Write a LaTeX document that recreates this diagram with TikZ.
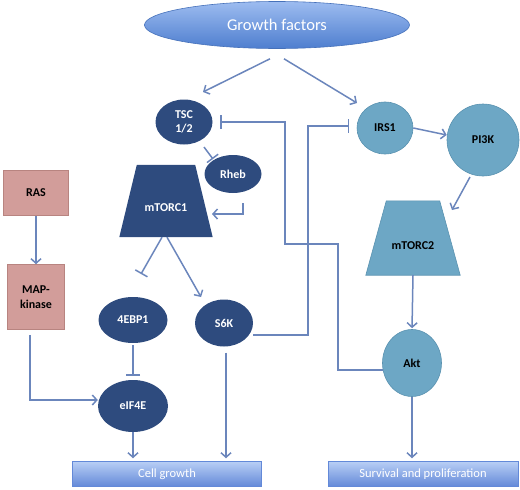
\documentclass[tikz,border=0pt]{standalone}
\usepackage{fontspec}
\setmainfont{Carlito}
\usepackage{tikz}
\usetikzlibrary{arrows.meta,positioning,shapes.geometric,calc,backgrounds}
\definecolor{navy}{HTML}{2E4B7E}
\definecolor{teal}{HTML}{6DA7C5}
\definecolor{tealdk}{HTML}{5A92B0}
\definecolor{rose}{HTML}{D29D9A}
\definecolor{rosedk}{HTML}{B88480}
\definecolor{steel}{HTML}{6B86BC}
\definecolor{sky}{HTML}{9DBCF0}
\definecolor{skydk}{HTML}{4E7ECF}
\definecolor{pale}{HTML}{B8CEF5}
\definecolor{paledk}{HTML}{6389D8}
\tikzset{
  nfont/.style={font=\fontsize{12}{13}\selectfont\bfseries},
  dark/.style={ellipse,fill=navy,text=white,align=center,inner sep=0pt,nfont},
  light/.style={ellipse,draw=tealdk,line width=0.6pt,fill=teal,text=black,align=center,inner sep=0pt,nfont},
  trapbox/.style={rectangle,inner sep=0pt,text depth=0pt,nfont},
  rasbox/.style={rectangle,draw=rosedk,line width=0.6pt,fill=rose,align=center,inner sep=0pt,nfont},
  outbox/.style={rectangle,draw=paledk,line width=0.5pt,top color=pale,bottom color=paledk,text=white,inner sep=0pt,font=\fontsize{12.5}{14}\selectfont},
  arr/.style={-{Straight Barb[length=4.5pt,width=10pt]},line width=1.5pt,color=steel},
  inh/.style={-{Bar[width=14pt]},line width=1.5pt,color=steel},
}
\begin{document}
\begin{tikzpicture}[x=1pt,y=-1pt]
\useasboundingbox (0,0) rectangle (520,490);
% input
\node[ellipse,draw=skydk!90!black,line width=0.6pt,top color=sky,bottom color=skydk,text=white,minimum width=265pt,minimum height=47pt,inner sep=0pt,font=\fontsize{16.5}{18}\selectfont] (gf) at (277,25) {Growth factors};
% mTORC1 branch
\node[dark,minimum width=57pt,minimum height=45pt] (tsc) at (184,122) {TSC\\[1pt]1/2};
\node[dark,minimum width=57pt,minimum height=38pt] (rheb) at (233,174) {Rheb};
\node[trapbox,text=white,minimum width=93pt,minimum height=72pt,text height=20pt] (mtorc1) at (166,201) {mTORC1};
\node[dark,minimum width=69pt,minimum height=46pt] (ebp) at (133,320) {4EBP1};
\node[dark,minimum width=70pt,minimum height=52pt] (eif) at (133,406) {eIF4E};
\node[dark,minimum width=58pt,minimum height=47pt] (s6k) at (224,323) {S6K};
% RAS branch
\node[rasbox,minimum width=65pt,minimum height=45pt] (ras) at (36,193) {RAS};
\node[rasbox,minimum width=57pt,minimum height=65pt] (map) at (36,297) {MAP-\\[1.5pt]kinase};
% mTORC2 branch
\node[light,minimum width=56pt,minimum height=52pt] (irs) at (385,128) {IRS1};
\node[light,minimum width=72pt,minimum height=72pt] (pi3k) at (483,140) {PI3K};
\node[trapbox,minimum width=94pt,minimum height=74pt,text height=22pt] (mtorc2) at (413,238) {mTORC2};
\node[light,minimum width=59pt,minimum height=67pt] (akt) at (412,363) {Akt};
% outputs
\node[outbox,minimum width=189pt,minimum height=25pt] (cell) at (167,474) {Cell growth};
\node[outbox,minimum width=190pt,minimum height=25pt] (surv) at (423,474) {Survival and proliferation};
% trapezium bodies
\begin{scope}[on background layer]
\fill[navy] (mtorc1.south west) -- (mtorc1.south east) -- ([xshift=-17.5pt]mtorc1.north east) -- ([xshift=17.5pt]mtorc1.north west) -- cycle;
\filldraw[fill=teal,draw=tealdk,line width=0.6pt] (mtorc2.south west) -- (mtorc2.south east) -- ([xshift=-20.5pt]mtorc2.north east) -- ([xshift=20.5pt]mtorc2.north west) -- cycle;
\end{scope}
% connectors
\draw[arr] ([xshift=-7pt,yshift=-10pt]gf.south) -- ([xshift=19pt,yshift=30pt]tsc.center);
\draw[arr] ([xshift=7pt,yshift=-10pt]gf.south) -- ([xshift=-28pt,yshift=25pt]irs.center);
\draw[inh] ([xshift=20pt,yshift=-25pt]tsc.center) -- ([xshift=-20pt,yshift=15pt]rheb.center);
\draw[arr] ([xshift=10pt,yshift=-29pt]rheb.center) |- ([xshift=46pt,yshift=-13pt]mtorc1.center);
\draw[inh] ([xshift=-4pt]mtorc1.south) -- ([xshift=8pt,yshift=46pt]ebp.center);
\draw[arr] ([xshift=1pt]mtorc1.south) -- ([xshift=-23pt,yshift=26pt]s6k.center);
\draw[inh,shorten <=2pt,shorten >=4pt] (ebp.south) -- (eif.north);
\draw[arr] ([xshift=-6pt,yshift=-5pt]map.south) |- ([yshift=6pt]eif.west);
\draw[arr] (ras.south) -- (map.north);
\draw[arr,shorten >=3pt] (eif.south) -- (eif.south |- cell.north);
\draw[arr,shorten >=3pt] ([xshift=2pt,yshift=-6pt]s6k.south) -- ([xshift=2pt]s6k.south |- cell.north);
\coordinate (irsbar) at ([xshift=-36pt,yshift=2pt]irs.center);
\draw[inh] ([xshift=29pt,yshift=-12pt]s6k.center) -| ([xshift=-41pt]irsbar) -- (irsbar);
\draw[inh] ([xshift=-29pt,yshift=-7pt]akt.center) -| (338,244) -- (285,244) |- ([xshift=36pt]tsc.center);
\draw[arr] (irs.east) -- ([yshift=5pt]pi3k.west);
\draw[arr] ([xshift=-13pt,yshift=-37pt]pi3k.center) -- ([xshift=39pt,yshift=28pt]mtorc2.center);
\draw[arr,shorten >=1pt] (mtorc2.south) -- (akt.north);
\draw[arr,shorten >=3pt] (akt.south) -- (akt.south |- surv.north);
\end{tikzpicture}
\end{document}
